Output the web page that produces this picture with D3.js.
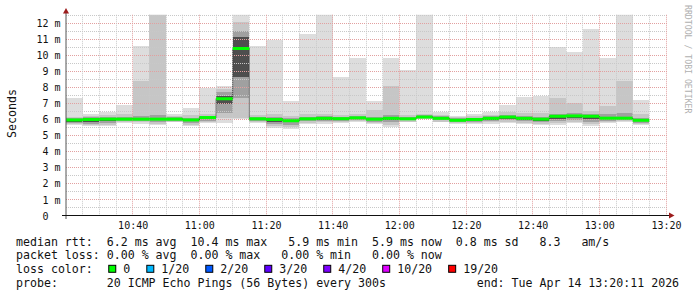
<!DOCTYPE html>
<html>
<head>
<meta charset="utf-8">
<script src="https://cdn.jsdelivr.net/npm/d3@7"></script>
<style>
body { margin: 0; background: #fff; }
svg text { font-family: "DejaVu Sans Mono", monospace; white-space: pre; }
</style>
</head>
<body>
<div id="chart"></div>
<script>
var width = 697;
var height = 297;

// 5 minute rounds, 10:20 .. 13:15 (ms)
var start = new Date(2026, 3, 14, 10, 20);
var end = new Date(2026, 3, 14, 13, 20);

var pingMin = [5.62,5.55,5.55,5.78,5.72,5.65,5.80,5.58,5.75,5.75,6.00,5.74,5.45,5.38,5.70,5.72,5.75,5.80,5.70,5.53,5.80,5.98,5.80,5.70,5.70,5.72,5.78,5.70,5.62,5.65,5.75,5.60,5.75,5.80,5.62];
var p10 = [5.68,5.62,5.65,5.82,5.80,5.72,5.85,5.65,5.82,6.05,6.05,5.80,5.55,5.50,5.78,5.80,5.82,5.88,5.78,5.65,5.85,6.02,5.85,5.75,5.77,5.80,5.85,5.78,5.70,5.75,5.85,5.70,5.82,5.88,5.70];
var p25 = [5.75,5.72,5.78,5.88,5.90,5.82,5.90,5.75,5.90,6.40,7.30,5.88,5.70,5.65,5.88,5.90,5.90,5.95,5.85,5.80,5.92,6.05,5.92,5.82,5.85,5.88,5.92,5.88,5.80,5.88,5.95,5.85,5.90,5.95,5.78];
var p40 = [5.85,5.85,5.90,5.94,5.95,5.92,5.95,5.88,6.00,6.95,8.65,5.95,5.85,5.80,5.95,5.97,5.96,6.02,5.93,5.95,5.97,6.08,5.98,5.88,5.92,5.95,6.00,5.96,5.90,6.02,6.08,6.00,5.98,6.00,5.86];
var median = [5.95,5.98,6.00,6.00,6.00,6.00,6.00,5.95,6.10,7.27,10.40,6.02,5.98,5.90,6.02,6.05,6.03,6.08,6.00,6.05,6.02,6.13,6.05,5.93,5.98,6.05,6.13,6.05,6.00,6.18,6.20,6.18,6.06,6.06,5.93];
var p60 = [6.02,6.05,6.07,6.06,6.07,6.08,6.05,6.02,6.15,7.45,11.10,6.07,6.05,5.97,6.08,6.10,6.08,6.13,6.06,6.12,6.08,6.20,6.10,5.98,6.04,6.10,6.18,6.10,6.06,6.24,6.25,6.24,6.12,6.12,5.99];
var p75 = [6.08,6.12,6.15,6.15,6.20,6.25,6.12,6.10,6.22,7.70,11.50,6.15,6.12,6.05,6.15,6.18,6.15,6.20,6.15,6.25,6.15,6.25,6.18,6.05,6.10,6.18,6.28,6.20,6.15,6.35,6.40,6.35,6.30,6.40,6.08];
var p90 = [6.15,6.20,6.25,6.30,8.40,13.0,6.20,6.25,6.35,7.88,12.07,6.25,6.30,6.20,6.30,6.30,6.25,6.30,6.60,8.06,6.25,6.35,6.28,6.12,6.20,6.28,6.45,6.40,6.40,7.30,7.00,6.50,6.80,8.40,6.30];
var pingMax = [7.30,6.30,6.45,6.88,10.55,13.0,6.30,6.70,7.95,8.06,13.0,10.55,10.90,7.13,11.30,13.0,8.60,9.80,7.15,9.80,9.05,13.0,6.46,6.20,6.30,6.46,6.88,7.38,7.46,10.50,10.20,11.60,9.80,13.0,7.19];

var yTicks = [0,1,2,3,4,5,6,7,8,9,10,11,12];
var lossLabels = ["0","1/20","2/20","3/20","4/20","10/20","19/20"];
var lossColors = ["#00ff00","#00b8ff","#0059ff","#5e00ff","#7e00ff","#dd00ff","#ff0000"];

var legendLines = [
  "median rtt:  6.2 ms avg  10.4 ms max   5.9 ms min  5.9 ms now  0.8 ms sd   8.3   am/s",
  "packet loss: 0.00 % avg  0.00 % max   0.00 % min   0.00 % now",
  "loss color:",
  "probe:       20 ICMP Echo Pings (56 Bytes) every 300s             end: Tue Apr 14 13:20:11 2026"
];

var svg = d3
  .select("#chart")
  .append("svg")
  .attr("width", width)
  .attr("height", height);

svg.append("rect").attr("width", width).attr("height", height).attr("fill", "#fff");

var x = d3.scaleTime().domain([start, end]).range([66, 666]);
var y = d3.scaleLinear().domain([0, 12.5]).range([215.5, 14.75]);

function colStart(i) { return x(d3.timeMinute.offset(start, 5 * i)); }
function colEnd(i) { return x(d3.timeMinute.offset(start, 5 * (i + 1))); }

svg.append("clipPath").attr("id", "plot")
  .append("rect").attr("x", 66).attr("y", y(12.5)).attr("width", 600).attr("height", y(0) - y(12.5));

// smoke: bands between sorted pings, darker towards the median
var bands = [
  [pingMin, p10, "#dddddd"],
  [p10, p25, "#c6c6c6"],
  [p25, p40, "#a0a0a0"],
  [p40, p60, "#4e4e4e"],
  [p60, p75, "#a0a0a0"],
  [p75, p90, "#c6c6c6"],
  [p90, pingMax, "#dddddd"]
];

var smoke = svg.append("g").attr("clip-path", "url(#plot)").attr("shape-rendering", "crispEdges");
bands.forEach(function(b) {
  smoke.append("g")
    .selectAll("rect")
    .data(median)
    .enter()
    .append("rect")
    .attr("x", function(d, i) { return colStart(i); })
    .attr("width", function(d, i) { return colEnd(i) - colStart(i); })
    .attr("y", function(d, i) { return y(b[1][i]); })
    .attr("height", function(d, i) { return Math.max(0, y(b[0][i]) - y(b[1][i])); })
    .attr("fill", b[2]);
});

// grid
var grid = svg.append("g").attr("class", "grid");
var halfSteps = d3.range(1, 26).map(function(d) { return d / 2; });
halfSteps.forEach(function(v) {
  var yy = Math.round(y(v)) + 0.5;
  grid.append("line")
    .attr("x1", 66).attr("x2", 667)
    .attr("y1", yy).attr("y2", yy)
    .attr("stroke", v % 1 === 0 ? "#e2a0a0" : "#c8c8c8")
    .attr("stroke-dasharray", "1,1");
});
d3.timeMinute.every(5).range(d3.timeMinute.offset(start, 5), d3.timeMinute.offset(end, 1)).forEach(function(t) {
  var xx = Math.floor(x(t)) + 0.5;
  grid.append("line")
    .attr("x1", xx).attr("x2", xx)
    .attr("y1", y(12.5)).attr("y2", y(0))
    .attr("stroke", t.getMinutes() % 20 === 0 ? "#e2a0a0" : "#c8c8c8")
    .attr("stroke-dasharray", "1,1");
});

// median: vertical jumps dark, flat parts coloured by loss
var med = svg.append("g");
median.forEach(function(m, i) {
  if (i > 0) {
    med.append("line")
      .attr("x1", colStart(i)).attr("x2", colStart(i))
      .attr("y1", y(median[i - 1])).attr("y2", y(m))
      .attr("stroke", "#222")
      .attr("stroke-dasharray", "1,1");
  }
});
med.selectAll("line.m")
  .data(median)
  .enter()
  .append("line")
  .attr("class", "m")
  .attr("x1", function(d, i) { return colStart(i); })
  .attr("x2", function(d, i) { return colEnd(i); })
  .attr("y1", function(d) { return y(d); })
  .attr("y2", function(d) { return y(d); })
  .attr("stroke", lossColors[0])
  .attr("stroke-width", 3);

// axes
svg.append("line").attr("x1", 66).attr("x2", 66).attr("y1", 219).attr("y2", 11).attr("stroke", "#555");
svg.append("line").attr("x1", 62).attr("x2", 670).attr("y1", 215.5).attr("y2", 215.5).attr("stroke", "#111");
svg.append("path").attr("d", "M63,13.5L66,8L69,13.5Z").attr("fill", "#9c1c1c");
svg.append("path").attr("d", "M669,212.5L674.5,215.5L669,218.5Z").attr("fill", "#9c1c1c");

var yAxis = svg.append("g")
  .call(d3.axisLeft(y).tickValues(yTicks).tickSize(0)
    .tickFormat(function(d) { return d === 0 ? "0  " : d + " m"; }));
yAxis.select(".domain").remove();
yAxis.selectAll("text")
  .attr("x", 60.5)
  .attr("dy", "0.36em")
  .attr("font-size", "10px")
  .attr("font-family", null)
  .attr("fill", "#111");

var xAxis = svg.append("g")
  .attr("transform", "translate(0,215.5)")
  .call(d3.axisBottom(x).ticks(d3.timeMinute.every(20)).tickSize(0)
    .tickFormat(d3.timeFormat("%H:%M")));
xAxis.select(".domain").remove();
xAxis.selectAll("text")
  .filter(function(d) { return d > start; })
  .attr("y", 13)
  .attr("dy", null)
  .attr("font-size", "10px")
  .attr("font-family", null)
  .attr("fill", "#111");
xAxis.selectAll("text").filter(function(d) { return +d === +start; }).remove();

svg.append("text")
  .attr("transform", "translate(15.5,113.5) rotate(-90)")
  .attr("text-anchor", "middle")
  .attr("font-size", "11.6px")
  .attr("fill", "#111")
  .text("Seconds");

svg.append("text")
  .attr("transform", "translate(685,5) rotate(90)")
  .attr("font-size", "8.2px")
  .attr("fill", "#b0b0b0")
  .text("RRDTOOL / TOBI OETIKER");

// legend
var legX = 16;
var lineY = [245.5, 259, 272.8, 286.5];
var legend = svg.append("g").attr("font-size", "11.6px").attr("fill", "#111");
legendLines.forEach(function(s, i) {
  legend.append("text").attr("x", legX).attr("y", lineY[i]).text(s);
});

var probe = legend.append("text").attr("x", -100).attr("y", -100).text("0000000000");
var cw = probe.node().getComputedTextLength() / 10;
probe.remove();

var bx = legX + 13 * cw + 1.5;
lossLabels.forEach(function(lab, i) {
  legend.append("rect")
    .attr("x", bx + 0.5).attr("y", lineY[2] - 7.5)
    .attr("width", 7).attr("height", 7)
    .attr("fill", lossColors[i])
    .attr("stroke", "#000");
  var t = legend.append("text").attr("x", bx + 15).attr("y", lineY[2]).text(lab);
  bx = bx + 15 + t.node().getComputedTextLength() + 2.3 * cw;
});
</script>
</body>
</html>
